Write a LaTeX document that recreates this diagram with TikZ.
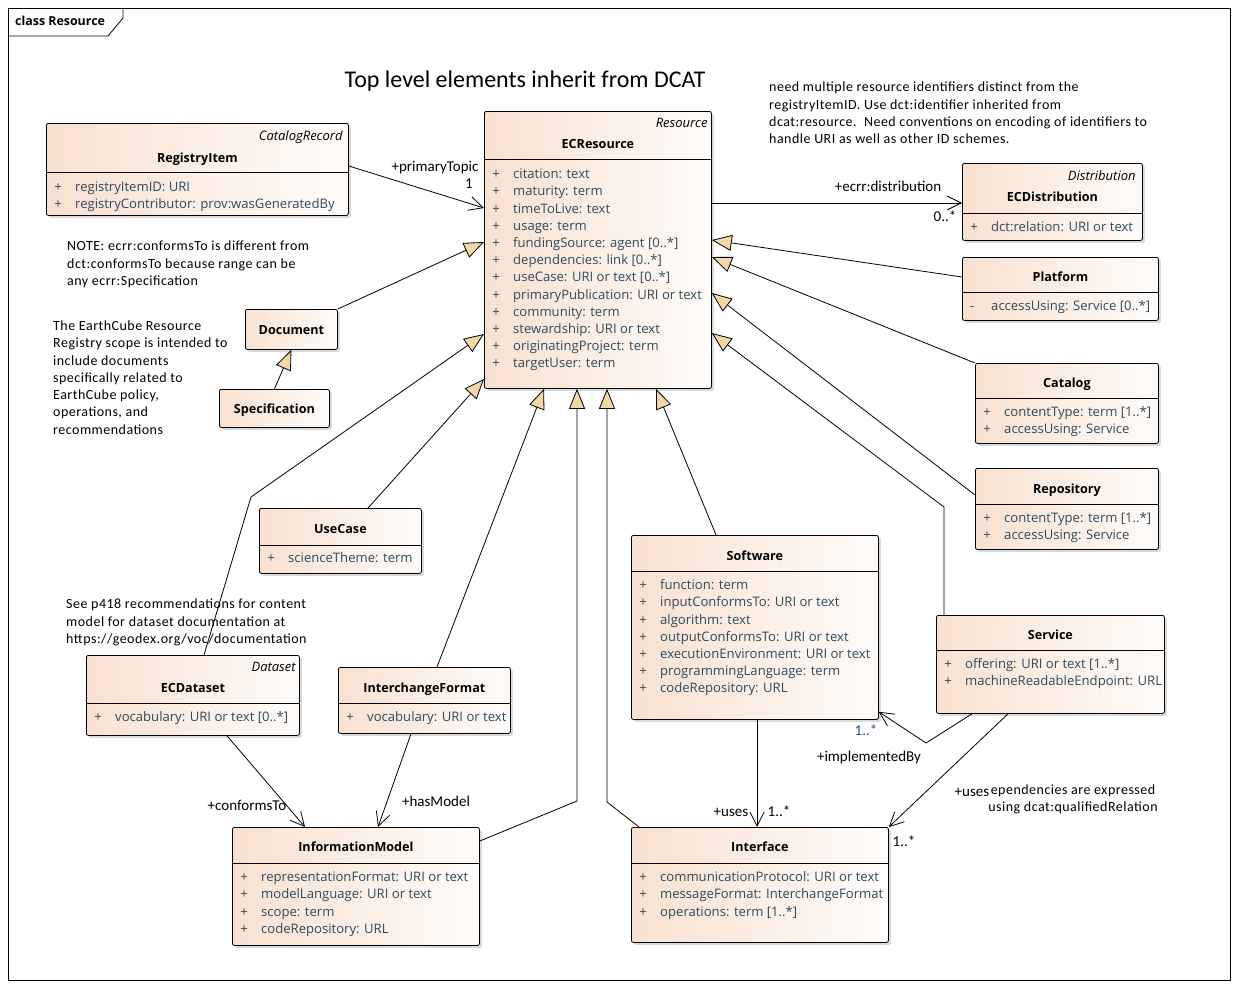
\documentclass[tikz,border=0pt]{standalone}
\usepackage{fontspec}
\setmainfont{Carlito}
\newfontfamily\uif{Open Sans}
\newfontfamily\notef[LetterSpace=3.5]{Carlito}
\usetikzlibrary{arrows.meta,shadows,calc}
\definecolor{boxl}{HTML}{F8E1D0}
\definecolor{boxr}{HTML}{FFFCFA}
\definecolor{attrc}{HTML}{2F4A5C}
\definecolor{trif}{HTML}{F5D6A6}
\definecolor{multc}{HTML}{1F4E8C}
\newcommand\sepline[2]{\draw[boxline] ([yshift=-#2pt]#1.north west) -- ([yshift=-#2pt]#1.north east);}
\newcommand\attrlist[3]{%
  \foreach \attrtext [count=\i] in {#3} {
    \pgfmathsetmacro\yy{#2+(\i-1)*17.2}
    \node[plus] (#1-p\i) at ($(#1.north west)+(12,\yy)$) {+};
    \node[attr] (#1-a\i) at ($(#1.north west)+(29,\yy)$) {\attrtext};
  }%
}
\begin{document}
\begin{tikzpicture}[x=1pt,y=-1pt,
  boxline/.style={line width=0.8pt},
  cls/.style={draw=black, line width=0.8pt, rounded corners=2pt, left color=boxl, right color=boxr,
    drop shadow={shadow xshift=2.5pt,shadow yshift=-2.5pt,fill=black,opacity=0.15},
    anchor=north west, inner sep=0pt},
  cname/.style={font=\uif\bfseries\fontsize{12.6}{14}\selectfont, inner sep=0pt, text height=12pt, text depth=2.5pt},
  stereo/.style={font=\uif\itshape\fontsize{13}{14}\selectfont, inner sep=0pt, anchor=east, text height=12pt, text depth=2.5pt},
  attr/.style={font=\uif\fontsize{13.1}{14}\selectfont, text=attrc, inner sep=0pt, anchor=west, text height=12pt, text depth=2.5pt},
  plus/.style={font=\uif\fontsize{13.1}{14}\selectfont, text=attrc, inner sep=0pt, text height=12pt, text depth=2.5pt},
  lab/.style={font=\fontsize{15}{16}\selectfont, inner sep=0pt, text height=11pt, text depth=2.5pt},
  note/.style={font=\notef\fontsize{14}{17.3}\selectfont, inner sep=0pt, align=left, anchor=north west},
  gen/.style={draw, line width=0.8pt, -{Triangle[length=20pt,width=16pt,fill=trif]}},
  assoc/.style={draw, line width=0.8pt, -{Straight Barb[length=14pt,width=14pt]}}]

\fill[white] (0,0) rectangle (1238,988);
\useasboundingbox (0,0) rectangle (1238,988);

% frame
\draw[line width=0.8pt] (8,8) rectangle (1230,980);
\draw[line width=0.8pt] (8,36) -- (108,36) -- (123,18) -- (123,8);
\node[font=\uif\bfseries\fontsize{12.4}{14}\selectfont, inner sep=0pt, anchor=west, text height=11pt, text depth=2.5pt] (frametitle) at (15,21) {class Resource};

% title and notes
\node[font=\fontsize{24}{26}\selectfont, inner sep=0pt] (title) at (525,81) {Top level elements inherit from DCAT};
\node[note] (note1) at (769,82) {need multiple resource identifiers distinct from the\\registryItemID. Use dct:identifier inherited from\\dcat:resource.\ \ Need conventions on encoding of identifiers to\\handle URI as well as other ID schemes.};
\node[note] (note2) at (67,241) {NOTE: ecrr:conformsTo is different from\\dct:conformsTo because range can be\\any ecrr:Specification};
\node[note] (note3) at (53,320.5) {The EarthCube Resource\\Registry scope is intended to\\include documents\\specifically related to\\EarthCube policy,\\operations, and\\recommendations};
\node[note] (note4) at (66,599) {See p418 recommendations for content\\model for dataset documentation at\\https://geodex.org/voc/documentation};
\node[note, align=center, anchor=north] (note5) at (1073,784.5) {ependencies are expressed\\using dcat:qualifiedRelation};

% ---- classes ----
% RegistryItem
\node[cls, minimum width=302pt, minimum height=92pt] (ri) at (46,123) {};
\sepline{ri}{49}
\node[stereo] (ri-s) at ($(ri.north east)+(-6,13)$) {CatalogRecord};
\node[cname] (ri-n) at ($(ri.north)+(0,35)$) {RegistryItem};
\attrlist{ri}{64}{{registryItemID: URI},{registryContributor: prov:wasGeneratedBy}}

% ECResource
\node[cls, minimum width=227pt, minimum height=277pt] (ecr) at (484,111) {};
\sepline{ecr}{48}
\node[stereo] (ecr-s) at ($(ecr.north east)+(-4,12)$) {Resource};
\node[cname] (ecr-n) at ($(ecr.north)+(0,33)$) {ECResource};
\attrlist{ecr}{63}{{citation: text},{maturity: term},{timeToLive: text},{usage: term},{fundingSource: agent [0..*]},{dependencies: link [0..*]},{useCase: URI or text [0..*]},{primaryPublication: URI or text},{community: term},{stewardship: URI or text},{originatingProject: term},{targetUser: term}}

% ECDistribution
\node[cls, minimum width=180pt, minimum height=77pt] (ecd) at (962,163) {};
\sepline{ecd}{50}
\node[stereo] (ecd-s) at ($(ecd.north east)+(-7,13)$) {Distribution};
\node[cname] (ecd-n) at ($(ecd.north)+(0,34)$) {ECDistribution};
\attrlist{ecd}{64}{{dct:relation: URI or text}}

% Platform
\node[cls, minimum width=196pt, minimum height=63pt] (plat) at (962,257) {};
\sepline{plat}{35}
\node[cname] (plat-n) at ($(plat.north)+(0,20)$) {Platform};
\node[plus] (plat-p1) at ($(plat.north west)+(10,49)$) {-};
\node[attr] (plat-a1) at ($(plat.north west)+(29,49)$) {accessUsing: Service [0..*]};

% Catalog
\node[cls, minimum width=183pt, minimum height=80pt] (cat) at (975,363) {};
\sepline{cat}{35}
\node[cname] (cat-n) at ($(cat.north)+(0,20)$) {Catalog};
\attrlist{cat}{49}{{contentType: term [1..*]},{accessUsing: Service}}

% Repository
\node[cls, minimum width=183pt, minimum height=81pt] (repo) at (975,468) {};
\sepline{repo}{36}
\node[cname] (repo-n) at ($(repo.north)+(0,21)$) {Repository};
\attrlist{repo}{50}{{contentType: term [1..*]},{accessUsing: Service}}

% Service
\node[cls, minimum width=228pt, minimum height=98pt] (svc) at (936,615) {};
\sepline{svc}{35}
\node[cname] (svc-n) at ($(svc.north)+(0,20)$) {Service};
\attrlist{svc}{49}{{offering: URI or text [1..*]},{machineReadableEndpoint: URL}}

% Software
\node[cls, minimum width=247pt, minimum height=184pt] (sw) at (631,535) {};
\sepline{sw}{36}
\node[cname] (sw-n) at ($(sw.north)+(0,21)$) {Software};
\attrlist{sw}{50}{{function: term},{inputConformsTo: URI or text},{algorithm: text},{outputConformsTo: URI or text},{executionEnvironment: URI or text},{programmingLanguage: term},{codeRepository: URL}}

% Interface
\node[cls, minimum width=257pt, minimum height=115pt] (intf) at (631,827) {};
\sepline{intf}{36}
\node[cname] (intf-n) at ($(intf.north)+(0,20)$) {Interface};
\attrlist{intf}{50}{{communicationProtocol: URI or text},{messageFormat: InterchangeFormat},{operations: term [1..*]}}

% InformationModel
\node[cls, minimum width=247pt, minimum height=118pt] (im) at (232,827) {};
\sepline{im}{36}
\node[cname] (im-n) at ($(im.north)+(0,20)$) {InformationModel};
\attrlist{im}{50}{{representationFormat: URI or text},{modelLanguage: URI or text},{scope: term},{codeRepository: URL}}

% InterchangeFormat
\node[cls, minimum width=172pt, minimum height=66pt] (icf) at (338,667) {};
\sepline{icf}{36}
\node[cname] (icf-n) at ($(icf.north)+(0,21)$) {InterchangeFormat};
\attrlist{icf}{50}{{vocabulary: URI or text}}

% ECDataset
\node[cls, minimum width=213pt, minimum height=80pt] (ecds) at (86,655) {};
\sepline{ecds}{48}
\node[stereo] (ecds-s) at ($(ecds.north east)+(-4,12)$) {Dataset};
\node[cname] (ecds-n) at ($(ecds.north)+(0,33)$) {ECDataset};
\attrlist{ecds}{62}{{vocabulary: URI or text [0..*]}}

% UseCase
\node[cls, minimum width=162pt, minimum height=65pt] (uc) at (259,508) {};
\sepline{uc}{37}
\node[cname] (uc-n) at ($(uc.north)+(0,21)$) {UseCase};
\attrlist{uc}{50}{{scienceTheme: term}}

% Document, Specification
\node[cls, minimum width=92pt, minimum height=40pt] (doc) at (245,309) {};
\node[cname] (doc-n) at (doc.center) {Document};
\node[cls, minimum width=110pt, minimum height=38pt] (spec) at (219,389) {};
\node[cname] (spec-n) at (spec.center) {Specification};

% ---- connectors ----
\coordinate (bs) at (944,507);
\coordinate (bi) at (607,802);
\coordinate (bm) at (577,801);
\coordinate (bd) at (251,497);
\coordinate (bsv) at (926,743);

\draw[gen] ([yshift=-20pt]plat.north west) -- ([yshift=-129pt]ecr.north east);
\draw[gen] (cat.north west) -- ([yshift=-146pt]ecr.north east);
\draw[gen] ([yshift=-27pt]repo.north west) -- ([yshift=-182pt]ecr.north east);
\draw[gen] ([xshift=8pt]svc.north west) -- (bs) -- ([yshift=-222pt]ecr.north east);
\draw[gen] ([xshift=85pt]sw.north west) -- ([xshift=172pt]ecr.south west);
\draw[gen] ([xshift=8pt]intf.north west) -- (bi) -- ([xshift=123pt]ecr.south west);
\draw[gen] ([yshift=-14pt]im.north east) -- (bm) -- ([xshift=93pt]ecr.south west);
\draw[gen] ([xshift=99pt]icf.north west) -- ([xshift=60pt]ecr.south west);
\draw[gen] ([xshift=109pt]uc.north west) -- ([yshift=-268pt]ecr.north west);
\draw[gen] ([xshift=118pt]ecds.north west) -- (bd) -- ([yshift=-223pt]ecr.north west);
\draw[gen] (doc.north east) -- ([yshift=-131pt]ecr.north west);
\draw[gen] (spec.north) -- (doc.south);

\draw[assoc] ([yshift=-43pt]ri.north east) -- ([yshift=-97pt]ecr.north west);
\draw[assoc] ([yshift=-92pt]ecr.north east) -- ([yshift=-40pt]ecd.north west);
\draw[assoc] ([xshift=141pt]ecds.south west) -- ([xshift=73pt]im.north west);
\draw[assoc] ([xshift=73pt]icf.south west) -- ([xshift=146pt]im.north west);
\draw[assoc] ([xshift=126pt]sw.south west) -- ([xshift=126pt]intf.north west);
\draw[assoc] ([xshift=36pt]svc.south west) -- (bsv) -- ([yshift=8pt]sw.south east);
\draw[assoc] ([xshift=72pt]svc.south west) -- (intf.north east);

% ---- connector labels ----
\node[lab] (l-pt) at (435,167) {+primaryTopic};
\node[lab] (l-pt1) at (469,184) {1};
\node[lab] (l-dist) at (888,187) {+ecrr:distribution};
\node[lab] (l-dist1) at (945,217) {0..*};
\node[lab] (l-conf) at (247,806) {+conformsTo};
\node[lab] (l-hm) at (436,802) {+hasModel};
\node[lab] (l-uses1) at (731,812) {+uses};
\node[lab] (l-uses1m) at (779,812) {1..*};
\node[lab, text=multc] (l-impm) at (866,731) {1..*};
\node[lab] (l-imp) at (869,757) {+implementedBy};
\node[lab] (l-uses2) at (972,792) {+uses};
\node[lab] (l-uses2m) at (904,842) {1..*};
\end{tikzpicture}
\end{document}
